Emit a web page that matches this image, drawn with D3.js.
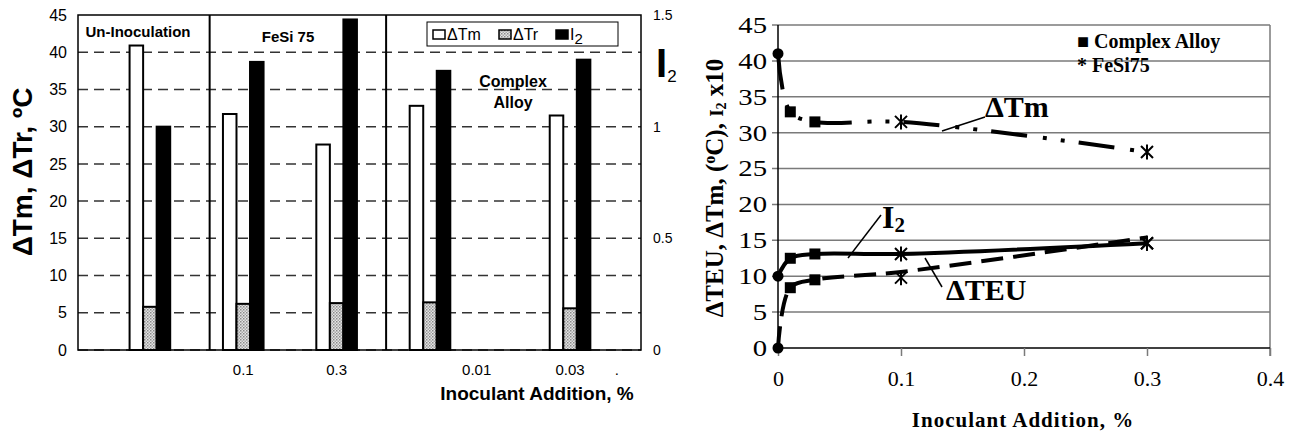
<!DOCTYPE html>
<html>
<head>
<meta charset="utf-8">
<script src="https://cdn.jsdelivr.net/npm/d3@7"></script>
<style>
body { margin: 0; background: #fff; }
svg { display: block; }
</style>
</head>
<body>
<svg id="svg"></svg>
<script>
var larghezza = 1295;
var altezza = 435;

// left chart data (bar chart)
var groupNames = ["Un-Inoculation", "FeSi 75", "Complex Alloy"];
var groupSlot = [0, 1, 2, 3, 4.5];           // category index on the axis
var dTm = [40.9, 31.7, 27.6, 32.8, 31.5];
var dTr = [5.8, 6.2, 6.3, 6.4, 5.6];
var i2 = [1.0, 1.29, 1.48, 1.25, 1.3];
var tickLabels = ["0.1", "0.3", "0.01", "0.03", "."];
var tickSlot = [1, 2, 3.5, 4.5, 5];
var separatorSlot = [0.64, 2.53];

// right chart data (lines)
var addition = [0, 0.01, 0.03, 0.1, 0.3];
var tmLine = [41, 32.9, 31.5, 31.5, 27.3];
var i2Line = [10, 12.5, 13.1, 13.1, 14.6];
var teuLine = [0, 8.4, 9.5, 10.6, 15.4];
var teuMarks = [0, 8.4, 9.5, 9.8, 14.6];
var markType = ["circle", "square", "square", "star", "star"];

var svg = d3.select("#svg").attr("width", larghezza).attr("height", altezza);

drawBars(svg);
drawLines(svg);

function drawBars(svg) {
    var sans = "'Liberation Sans', Arial, sans-serif";
    var x = d3.scaleLinear().domain([-0.77, 5.26]).range([78, 641]);
    var y = d3.scaleLinear().domain([0, 45]).range([350, 15]);
    var y2 = d3.scaleLinear().domain([0, 1.5]).range([350, 15]);
    var bw = (x(1) - x(0)) * 0.145;

    var defs = svg.append("defs");
    var pat = defs.append("pattern").attr("id", "dots")
        .attr("width", 3).attr("height", 3).attr("patternUnits", "userSpaceOnUse");
    pat.append("rect").attr("width", 3).attr("height", 3).attr("fill", "#e4e4e4");
    pat.append("rect").attr("width", 1.5).attr("height", 1.5).attr("fill", "#8a8a8a");
    pat.append("rect").attr("x", 1.5).attr("y", 1.5).attr("width", 1.5).attr("height", 1.5).attr("fill", "#a8a8a8");

    // dashed grid
    d3.range(0, 45, 5).forEach(function (v) {
        svg.append("line")
            .attr("x1", 78).attr("x2", 641)
            .attr("y1", y(v)).attr("y2", y(v))
            .style("stroke", "#333").style("stroke-width", "1.5px")
            .style("stroke-dasharray", "10,6");
    });

    // bars
    groupSlot.forEach(function (s, i) {
        var cx = x(s);
        svg.append("rect")
            .attr("x", cx - 1.5 * bw).attr("y", y(dTm[i]))
            .attr("width", bw).attr("height", y(0) - y(dTm[i]))
            .style("fill", "#fff").style("stroke", "#000").style("stroke-width", "2px");
        svg.append("rect")
            .attr("x", cx - 0.5 * bw).attr("y", y(dTr[i]))
            .attr("width", bw).attr("height", y(0) - y(dTr[i]))
            .style("fill", "url(#dots)").style("stroke", "#000").style("stroke-width", "2px");
        svg.append("rect")
            .attr("x", cx + 0.5 * bw).attr("y", y2(i2[i]))
            .attr("width", bw).attr("height", y2(0) - y2(i2[i]))
            .style("fill", "#000").style("stroke", "#000").style("stroke-width", "2px");
    });

    // frame and separators
    svg.append("rect").attr("x", 78).attr("y", 15).attr("width", 563).attr("height", 335)
        .style("fill", "none").style("stroke", "#000").style("stroke-width", "1.5px");
    separatorSlot.forEach(function (s) {
        svg.append("line").attr("x1", x(s)).attr("x2", x(s)).attr("y1", 15).attr("y2", 350)
            .style("stroke", "#000").style("stroke-width", "2px");
    });

    // axes
    var gl = svg.append("g").attr("transform", "translate(67,0)")
        .call(d3.axisLeft(y).tickValues(d3.range(0, 46, 5)).tickSize(0).tickPadding(0));
    gl.select(".domain").remove();
    gl.selectAll("text").style("font-family", sans).style("font-size", "16px").attr("fill", "#000");

    var gr = svg.append("g").attr("transform", "translate(653,0)")
        .call(d3.axisRight(y2).tickValues([0, 0.5, 1, 1.5]).tickFormat(d3.format("")).tickSize(0).tickPadding(0));
    gr.select(".domain").remove();
    gr.selectAll("text").style("font-family", sans).style("font-size", "14px").attr("fill", "#000");

    tickLabels.forEach(function (t, i) {
        svg.append("text").attr("x", x(tickSlot[i])).attr("y", 375)
            .attr("text-anchor", "middle")
            .style("font-family", sans).style("font-size", "15px").text(t);
    });

    // group labels
    svg.append("text").attr("x", 138).attr("y", 37).attr("text-anchor", "middle")
        .style("font-family", sans).style("font-size", "15px").style("font-weight", "bold")
        .text(groupNames[0]);
    svg.append("text").attr("x", 288).attr("y", 42).attr("text-anchor", "middle")
        .style("font-family", sans).style("font-size", "15px").style("font-weight", "bold")
        .text(groupNames[1]);
    var ca = groupNames[2].split(" ");
    svg.append("text").attr("x", 513).attr("y", 87).attr("text-anchor", "middle")
        .style("font-family", sans).style("font-size", "16px").style("font-weight", "bold")
        .text(ca[0]);
    svg.append("text").attr("x", 513).attr("y", 108).attr("text-anchor", "middle")
        .style("font-family", sans).style("font-size", "16px").style("font-weight", "bold")
        .text(ca[1]);

    // legend
    svg.append("rect").attr("x", 427).attr("y", 22).attr("width", 191).attr("height", 24)
        .style("fill", "#fff").style("stroke", "#000").style("stroke-width", "1px");
    var items = [{ f: "#fff", t: "ΔTm", x: 433 }, { f: "url(#dots)", t: "ΔTr", x: 499 }, { f: "#000", t: "I", x: 556 }];
    items.forEach(function (it) {
        svg.append("rect").attr("x", it.x).attr("y", 30).attr("width", 12).attr("height", 9)
            .style("fill", it.f).style("stroke", "#000").style("stroke-width", "1.5px");
        var tx = svg.append("text").attr("x", it.x + 14).attr("y", 40)
            .style("font-family", sans).style("font-size", "16px").text(it.t);
        if (it.t === "I") tx.append("tspan").attr("dy", 4).style("font-size", "15px").text("2");
    });

    // axis titles
    svg.append("text").attr("transform", "translate(22,172) rotate(-90)")
        .attr("text-anchor", "middle").attr("dy", "0.35em")
        .style("font-family", sans).style("font-size", "28px").style("font-weight", "bold")
        .text("ΔTm, ΔTr, ºC");
    var ri = svg.append("text").attr("x", 656).attr("y", 77)
        .style("font-family", sans).style("font-size", "40px").style("font-weight", "bold").text("I");
    ri.append("tspan").attr("dy", 5).style("font-size", "17px").style("font-weight", "normal").text("2");
    svg.append("text").attr("x", 537).attr("y", 400).attr("text-anchor", "middle")
        .style("font-family", sans).style("font-size", "19px").style("font-weight", "bold")
        .text("Inoculant Addition, %");
}

function drawLines(svg) {
    var serif = "'Liberation Serif', 'Times New Roman', serif";
    var x = d3.scaleLinear().domain([0, 0.4]).range([778, 1270]);
    var y = d3.scaleLinear().domain([0, 45]).range([348, 25]);

    // horizontal grid
    d3.range(5, 46, 5).forEach(function (v) {
        svg.append("line").attr("x1", 772).attr("x2", 1270).attr("y1", y(v)).attr("y2", y(v))
            .style("stroke", "#7a7a7a").style("stroke-width", "1.5px");
    });
    svg.append("line").attr("x1", 1270).attr("x2", 1270).attr("y1", y(45)).attr("y2", y(0) + 8)
        .style("stroke", "#7a7a7a").style("stroke-width", "1.5px");

    var gx = svg.append("g").attr("transform", "translate(0," + y(0) + ")")
        .call(d3.axisBottom(x).tickValues([0, 0.1, 0.2, 0.3, 0.4]).tickFormat(d3.format("")).tickSize(8).tickPadding(14));
    gx.select(".domain").attr("d", "M" + x(0) + ",0H" + x(0.4)).style("stroke", "#000").style("stroke-width", "1.5px");
    gx.selectAll("line").style("stroke", "#7a7a7a").style("stroke-width", "1.5px");
    gx.selectAll("text").style("font-family", serif).style("font-size", "22px").attr("fill", "#000");

    var gy = svg.append("g").attr("transform", "translate(" + x(0) + ",0)")
        .call(d3.axisLeft(y).tickValues(d3.range(0, 46, 5)).tickSize(0).tickPadding(11));
    gy.select(".domain").attr("d", "M0," + y(45) + "V" + y(0)).style("stroke", "#000").style("stroke-width", "1.5px");
    gy.selectAll("text").style("font-family", serif).style("font-size", "23px").attr("fill", "#000")
        .attr("transform", "scale(1.25,1)").attr("x", -11 / 1.25);

    var line = d3.line().x(function (d) { return x(d[0]); }).y(function (d) { return y(d[1]); })
        .curve(d3.curveCatmullRom.alpha(0.5));

    function series(vals, dash) {
        svg.append("path").attr("d", line(addition.map(function (a, i) { return [a, vals[i]]; })))
            .style("fill", "none").style("stroke", "#000").style("stroke-width", "4px")
            .style("stroke-dasharray", dash);
    }
    series(tmLine, "36,16,4,14,4,14");
    series(i2Line, null);
    series(teuLine, "22,10");

    function marks(vals) {
        addition.forEach(function (a, i) {
            var px = x(a), py = y(vals[i]);
            if (markType[i] === "circle") {
                svg.append("circle").attr("cx", px).attr("cy", py).attr("r", 5.5).style("fill", "#000");
            } else if (markType[i] === "square") {
                svg.append("rect").attr("x", px - 5.5).attr("y", py - 5.5).attr("width", 11).attr("height", 11)
                    .style("fill", "#000");
            } else {
                svg.append("path").attr("transform", "translate(" + px + "," + py + ")")
                    .attr("d", "M-6,-6L6,6M-6,6L6,-6M0,-7.5V7.5")
                    .style("stroke", "#000").style("stroke-width", "2px").style("fill", "none");
            }
        });
    }
    marks(tmLine);
    marks(i2Line);
    marks(teuMarks);

    // annotations
    function leader(x1, y1, x2, y2) {
        svg.append("line").attr("x1", x1).attr("y1", y1).attr("x2", x2).attr("y2", y2)
            .style("stroke", "#000").style("stroke-width", "1.5px");
    }
    leader(942, 131, 985, 117);
    svg.append("text").attr("x", 985).attr("y", 117)
        .style("font-family", serif).style("font-size", "30px").style("font-weight", "bold").text("ΔTm");
    leader(848, 258, 881, 215);
    var t2 = svg.append("text").attr("x", 882).attr("y", 228)
        .style("font-family", serif).style("font-size", "32px").style("font-weight", "bold").text("I");
    t2.append("tspan").attr("dy", 4).style("font-size", "21px").text("2");
    leader(925, 258, 942, 287);
    svg.append("text").attr("x", 946).attr("y", 300)
        .style("font-family", serif).style("font-size", "30px").style("font-weight", "bold").text("ΔTEU");

    // legend
    svg.append("text").attr("x", 1077).attr("y", 48)
        .style("font-family", serif).style("font-size", "20px").style("font-weight", "bold").text("■ Complex Alloy");
    svg.append("text").attr("x", 1077).attr("y", 72)
        .style("font-family", serif).style("font-size", "20px").style("font-weight", "bold").text("* FeSi75");

    // axis titles
    var yt = svg.append("text").attr("transform", "translate(714,188) rotate(-90)")
        .attr("text-anchor", "middle").attr("dy", "0.35em")
        .style("font-family", serif).style("font-size", "25px").style("font-weight", "bold");
    yt.append("tspan").text("ΔTEU, ΔTm, (");
    yt.append("tspan").attr("dy", -8).style("font-size", "16px").text("o");
    yt.append("tspan").attr("dy", 8).text("C), ");
    yt.append("tspan").style("font-size", "19px").text("I");
    yt.append("tspan").attr("dy", 3).style("font-size", "14px").text("2");
    yt.append("tspan").attr("dy", -3).text(" x10");

    svg.append("text").attr("x", 1023).attr("y", 427).attr("text-anchor", "middle")
        .style("font-family", serif).style("font-size", "21px").style("font-weight", "bold")
        .style("letter-spacing", "1px").text("Inoculant Addition, %");
}
</script>
</body>
</html>
